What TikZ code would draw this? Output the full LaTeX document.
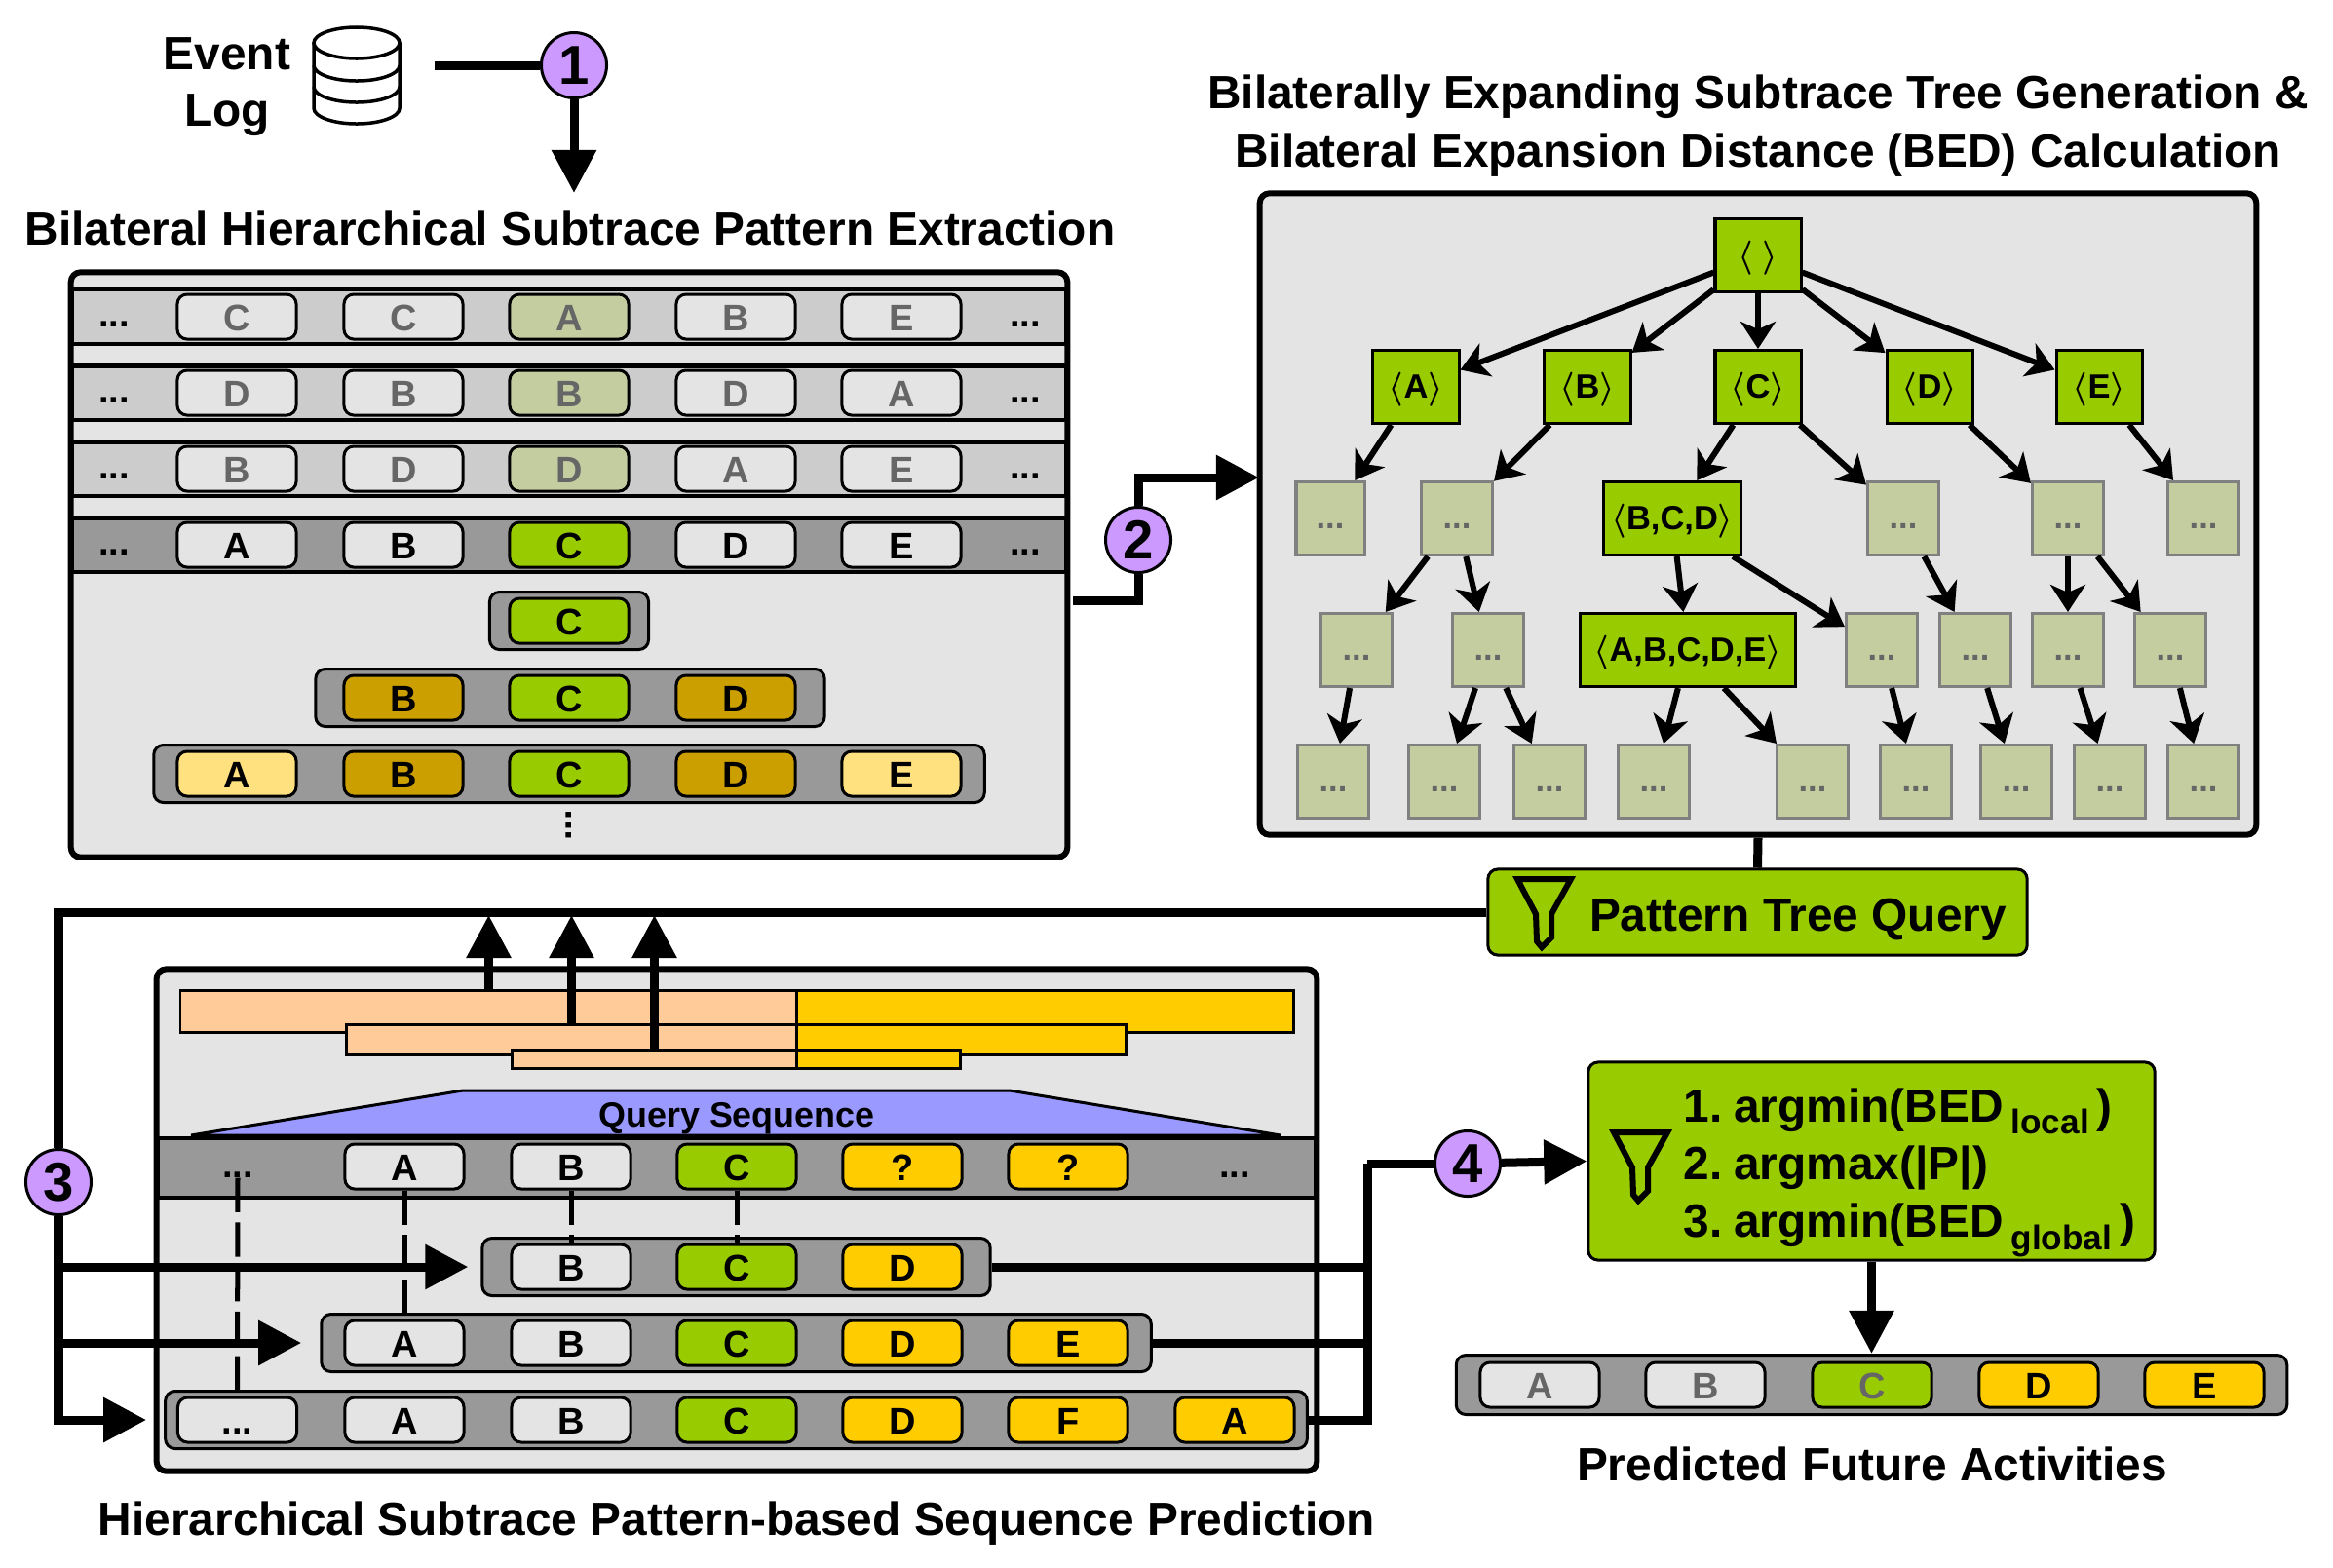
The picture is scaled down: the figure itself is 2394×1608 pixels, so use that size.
\documentclass[tikz,border=0pt]{standalone}
\usepackage{fontspec}
\setmainfont{Liberation Sans}
\usetikzlibrary{arrows.meta}

\definecolor{panelgray}{HTML}{E4E4E4}
\definecolor{lightband}{HTML}{CCCCCC}
\definecolor{darkband}{HTML}{999999}
\definecolor{actgreen}{HTML}{99CC00}
\definecolor{fadegreen}{HTML}{C3CDA0}
\definecolor{actgold}{HTML}{CC9F00}
\definecolor{actpale}{HTML}{FFE180}
\definecolor{actyellow}{HTML}{FFCC00}
\definecolor{barpeach}{HTML}{FFCC99}
\definecolor{stepviolet}{HTML}{CC99FF}
\definecolor{queryblue}{HTML}{9999FF}
\definecolor{fadetext}{HTML}{666666}
\definecolor{treeedge}{HTML}{808080}

\newcommand{\seqof}[1]{$\langle$#1$\rangle$}

\tikzset{
  titletext/.style={font=\bfseries\fontsize{13.6}{17}\selectfont, inner sep=0pt},
  panel/.style={draw, fill=panelgray, line width=.06cm, rounded corners=.1cm, inner sep=0pt},
  band/.style={draw, line width=.04cm, inner sep=0pt, minimum width=10.2cm, minimum height=.55cm},
  pill/.style={draw, fill=darkband, line width=.03cm, rounded corners=.1cm, inner sep=0pt, minimum height=.59cm},
  act/.style={draw, fill=panelgray, line width=.03cm, rounded corners=.1cm, inner sep=0pt,
    minimum width=1.22cm, minimum height=.46cm, text height=.28cm, text depth=0pt,
    font=\bfseries\fontsize{10.8}{12}\selectfont},
  faded/.style={text=fadetext},
  dotted text/.style={inner sep=0pt, text height=.28cm, text depth=0pt, font=\bfseries\fontsize{10.8}{12}\selectfont},
  greennode/.style={draw, fill=actgreen, line width=.03cm, inner sep=0pt, minimum width=.88cm, minimum height=.75cm,
    text height=.27cm, text depth=.04cm, font=\bfseries\boldmath\fontsize{9.8}{12}\selectfont},
  treenode/.style={draw=treeedge, fill=fadegreen, text=fadetext, line width=.03cm, inner sep=0pt, minimum width=.73cm, minimum height=.75cm,
    text height=.2cm, text depth=0pt, font=\bfseries\fontsize{9.8}{12}\selectfont},
  bar/.style={draw, line width=.025cm, inner sep=0pt},
  stepcircle/.style={circle, draw, fill=stepviolet, line width=.03cm, inner sep=0pt, minimum size=.67cm,
    font=\bfseries\fontsize{16}{16}\selectfont},
  flow/.style={line width=.09cm},
  flowarrow/.style={flow, -{Triangle[length=.44cm,width=.44cm]}},
  treearrow/.style={line width=.06cm, -{Stealth[length=.28cm,width=.36cm,inset=.08cm]}},
  matchline/.style={line width=.05cm, dash pattern=on 10pt off 3pt},
  greenbox/.style={draw, fill=actgreen, line width=.03cm, rounded corners=.1cm, inner sep=0pt},
  funnel/.pic={
    \draw[line width=.06cm] (0,0) -- (55,0) -- (35,36) -- (35,60) -- (25,70) -- (20,64) -- (19,36) -- cycle;
  }
}

\begin{document}
\begin{tikzpicture}[x=0.01cm,y=-0.01cm]
  \useasboundingbox (0,0) rectangle (2394,1608);

  % event log
  \node[titletext] (eventword) at (233,55) {Event};
  \node[titletext] (logword) at (233,118) {Log};
  \draw[line width=.035cm] (366,44) ellipse [x radius=.44cm, y radius=.16cm];
  \draw[line width=.035cm] (322,44) -- (322,111) arc[start angle=180,end angle=360,x radius=.44cm,y radius=.16cm] -- (410,44);
  \draw[line width=.035cm] (322,67) arc[start angle=180,end angle=360,x radius=.44cm,y radius=.16cm];
  \draw[line width=.035cm] (322,89) arc[start angle=180,end angle=360,x radius=.44cm,y radius=.16cm];
  \coordinate (logout) at (446,67);
  \coordinate (extractin) at (589,198);
  \node[stepcircle] (one) at (589,67) {1};
  \draw[flow] (logout) -- (one);
  \draw[flowarrow] (one) -- (extractin);

  % extraction panel
  \node[titletext] (extracttitle) at (585,234) {Bilateral Hierarchical Subtrace Pattern Extraction};
  \node[panel, minimum width=10.22cm, minimum height=6cm] (extractpanel) at (584,579.5) {};
  \node[band, fill=lightband] (rowa) at (584,325) {};
  \node[band, fill=lightband] (rowb) at (584,403) {};
  \node[band, fill=lightband] (rowc) at (584,481) {};
  \node[band, fill=darkband] (rowd) at (584,559) {};

  \node[dotted text] (adotl) at (117,321) {...};
  \node[act, faded] (a1) at (243,325) {C};
  \node[act, faded] (a2) at (414,325) {C};
  \node[act, faded, fill=fadegreen] (a3) at (584,325) {A};
  \node[act, faded] (a4) at (755,325) {B};
  \node[act, faded] (a5) at (925,325) {E};
  \node[dotted text] (adotr) at (1052,321) {...};

  \node[dotted text] (bdotl) at (117,399) {...};
  \node[act, faded] (b1) at (243,403) {D};
  \node[act, faded] (b2) at (414,403) {B};
  \node[act, faded, fill=fadegreen] (b3) at (584,403) {B};
  \node[act, faded] (b4) at (755,403) {D};
  \node[act, faded] (b5) at (925,403) {A};
  \node[dotted text] (bdotr) at (1052,399) {...};

  \node[dotted text] (cdotl) at (117,477) {...};
  \node[act, faded] (c1) at (243,481) {B};
  \node[act, faded] (c2) at (414,481) {D};
  \node[act, faded, fill=fadegreen] (c3) at (584,481) {D};
  \node[act, faded] (c4) at (755,481) {A};
  \node[act, faded] (c5) at (925,481) {E};
  \node[dotted text] (cdotr) at (1052,477) {...};

  \node[dotted text] (ddotl) at (117,555) {...};
  \node[act] (d1) at (243,559) {A};
  \node[act] (d2) at (414,559) {B};
  \node[act, fill=actgreen] (d3) at (584,559) {C};
  \node[act] (d4) at (755,559) {D};
  \node[act] (d5) at (925,559) {E};
  \node[dotted text] (ddotr) at (1052,555) {...};

  \node[pill, minimum width=1.63cm] (lvla) at (584,637) {};
  \node[act, fill=actgreen] (lvla3) at (584,637) {C};
  \node[pill, minimum width=5.22cm] (lvlb) at (585,716) {};
  \node[act, fill=actgold] (lvlb2) at (414,716) {B};
  \node[act, fill=actgreen] (lvlb3) at (584,716) {C};
  \node[act, fill=actgold] (lvlb4) at (755,716) {D};
  \node[pill, minimum width=8.52cm] (lvlc) at (584,794) {};
  \node[act, fill=actpale] (lvlc1) at (243,794) {A};
  \node[act, fill=actgold] (lvlc2) at (414,794) {B};
  \node[act, fill=actgreen] (lvlc3) at (584,794) {C};
  \node[act, fill=actgold] (lvlc4) at (755,794) {D};
  \node[act, fill=actpale] (lvlc5) at (925,794) {E};
  \node[inner sep=0pt, rotate=90, font=\bfseries\fontsize{10.8}{12}\selectfont] (moredots) at (584,847) {...};

  % subtrace tree
  \node[titletext] (treetitlea) at (1804,99) {Bilaterally Expanding Subtrace Tree Generation \&};
  \node[titletext] (treetitleb) at (1804,159) {Bilateral Expansion Distance (BED) Calculation};
  \node[panel, minimum width=10.22cm, minimum height=6.58cm] (treepanel) at (1804,527.5) {};

  \node[greennode] (root) at (1804,262) {\seqof{\;}};
  \node[greennode] (ta) at (1453,397) {\seqof{A}};
  \node[greennode] (tb) at (1629,397) {\seqof{B}};
  \node[greennode] (tc) at (1804,397) {\seqof{C}};
  \node[greennode] (td) at (1980,397) {\seqof{D}};
  \node[greennode] (te) at (2154,397) {\seqof{E}};

  \node[treenode, minimum width=.7cm] (ua) at (1365,532) {...};
  \node[treenode] (ub) at (1495,532) {...};
  \node[greennode, minimum width=1.41cm] (ubcd) at (1716,532) {\seqof{B,C,D}};
  \node[treenode] (uc) at (1953,532) {...};
  \node[treenode] (ud) at (2122,532) {...};
  \node[treenode] (ue) at (2261,532) {...};

  \node[treenode] (va) at (1392,667) {...};
  \node[treenode] (vb) at (1527,667) {...};
  \node[greennode, minimum width=2.21cm] (vall) at (1732,667) {\seqof{A,B,C,D,E}};
  \node[treenode] (vc) at (1931,667) {...};
  \node[treenode] (vd) at (2027,667) {...};
  \node[treenode] (ve) at (2122,667) {...};
  \node[treenode] (vf) at (2227,667) {...};

  \node[treenode] (wa) at (1368,802) {...};
  \node[treenode] (wb) at (1482,802) {...};
  \node[treenode] (wc) at (1590,802) {...};
  \node[treenode] (wd) at (1697,802) {...};
  \node[treenode] (we) at (1860,802) {...};
  \node[treenode] (wf) at (1966,802) {...};
  \node[treenode] (wg) at (2069,802) {...};
  \node[treenode] (wh) at (2165,802) {...};
  \node[treenode] (wi) at (2261,802) {...};

  \draw[treearrow] (root) -- (ta);
  \draw[treearrow] (root) -- (tb);
  \draw[treearrow] (root) -- (tc);
  \draw[treearrow] (root) -- (td);
  \draw[treearrow] (root) -- (te);
  \draw[treearrow] (ta) -- (ua);
  \draw[treearrow] (tb) -- (ub);
  \draw[treearrow] (tc) -- (ubcd);
  \draw[treearrow] (tc) -- (uc);
  \draw[treearrow] (td) -- (ud);
  \draw[treearrow] (te) -- (ue);
  \draw[treearrow] (ub) -- (va);
  \draw[treearrow] (ub) -- (vb);
  \draw[treearrow] (ubcd) -- (vall);
  \draw[treearrow] (ubcd) -- (vc);
  \draw[treearrow] (uc) -- (vd);
  \draw[treearrow] (ud) -- (ve);
  \draw[treearrow] (ud) -- (vf);
  \draw[treearrow] (va) -- (wa);
  \draw[treearrow] (vb) -- (wb);
  \draw[treearrow] (vb) -- (wc);
  \draw[treearrow] (vall) -- (wd);
  \draw[treearrow] (vall) -- (we);
  \draw[treearrow] (vc) -- (wf);
  \draw[treearrow] (vd) -- (wg);
  \draw[treearrow] (ve) -- (wh);
  \draw[treearrow] (vf) -- (wi);

  % step 2
  \coordinate (extractout) at (1101,616);
  \coordinate (treein) at (1292,490);
  \node[stepcircle] (two) at (1168,554) {2};
  \draw[flow] (extractout) -| (two);
  \draw[flowarrow] (two) |- (treein);

  % query box
  \node[greenbox, minimum width=5.53cm, minimum height=.88cm] (querybox) at (1803.5,936) {};
  \node[titletext] (querytext) at (1845,944) {Pattern Tree Query};
  \pic at (1557,902) {funnel};
  \draw[flow] (treepanel.south) -- (querybox.north);

  % prediction panel
  \node[titletext] (predtitle) at (756,1563) {Hierarchical Subtrace Pattern-based Sequence Prediction};
  \node[panel, minimum width=11.9cm, minimum height=5.15cm] (predpanel) at (756,1252) {};

  \node[bar, fill=barpeach, minimum width=6.33cm, minimum height=.43cm] (barpa) at (501.5,1038) {};
  \node[bar, fill=actyellow, minimum width=5.1cm, minimum height=.43cm] (barya) at (1072.5,1038) {};
  \node[bar, fill=barpeach, minimum width=4.62cm, minimum height=.31cm] (barpb) at (586.5,1067) {};
  \node[bar, fill=actyellow, minimum width=3.38cm, minimum height=.31cm] (baryb) at (986.5,1067) {};
  \node[bar, fill=barpeach, minimum width=2.92cm, minimum height=.19cm] (barpc) at (671.5,1087) {};
  \node[bar, fill=actyellow, minimum width=1.68cm, minimum height=.19cm] (baryc) at (901.5,1087) {};

  \draw[line width=.03cm, fill=queryblue] (196,1165) -- (475,1119) -- (1036,1119) -- (1314,1165) -- cycle;
  \node[inner sep=0pt, font=\bfseries\fontsize{10.2}{12}\selectfont] (querylabel) at (756,1148) {Query Sequence};
  \node[band, fill=darkband, minimum width=11.87cm, minimum height=.61cm] (queryband) at (756,1198) {};

  \node[dotted text] (qdotl) at (244,1194) {...};
  \node[act] (q2) at (415,1197) {A};
  \node[act] (q3) at (586,1197) {B};
  \node[act, fill=actgreen] (q4) at (756,1197) {C};
  \node[act, fill=actyellow] (q5) at (926,1197) {?};
  \node[act, fill=actyellow] (q6) at (1096,1197) {?};
  \node[dotted text] (qdotr) at (1267,1194) {...};

  \node[pill, minimum width=5.21cm] (sa) at (755.5,1300) {};
  \node[act] (sa3) at (586,1300) {B};
  \node[act, fill=actgreen] (sa4) at (756,1300) {C};
  \node[act, fill=actyellow] (sa5) at (926,1300) {D};

  \node[pill, minimum width=8.51cm] (sb) at (755.5,1378) {};
  \node[act] (sb2) at (415,1378) {A};
  \node[act] (sb3) at (586,1378) {B};
  \node[act, fill=actgreen] (sb4) at (756,1378) {C};
  \node[act, fill=actyellow] (sb5) at (926,1378) {D};
  \node[act, fill=actyellow] (sb6) at (1096,1378) {E};

  \node[pill, minimum width=11.71cm] (sc) at (755.5,1457) {};
  \node[act] (sc1) at (243.5,1457) {...};
  \node[act] (sc2) at (415,1457) {A};
  \node[act] (sc3) at (586,1457) {B};
  \node[act, fill=actgreen] (sc4) at (756,1457) {C};
  \node[act, fill=actyellow] (sc5) at (926,1457) {D};
  \node[act, fill=actyellow] (sc6) at (1096,1457) {F};
  \node[act, fill=actyellow] (sc7) at (1267,1457) {A};

  \draw[matchline] (qdotl.south) -- (sc1.north);
  \draw[matchline] (q2.south) -- (sb2.north);
  \draw[matchline] (q3.south) -- (sa3.north);
  \draw[matchline] (q4.south) -- (sa4.north);

  \draw[flowarrow, shorten >=.03cm] (barpa.north) -- (barpa.north |- querybox.west);
  \draw[flowarrow, shorten >=.03cm] (barpb.north) -- (barpb.north |- querybox.west);
  \draw[flowarrow, shorten >=.03cm] (barpc.north) -- (barpc.north |- querybox.west);

  % step 3
  \node[stepcircle] (three) at (60,1213) {3};
  \draw[flow] (querybox.west) -| (three);
  \draw[flowarrow, shorten >=.13cm] (three) |- (sa.west);
  \draw[flowarrow, shorten >=.19cm] (three) |- (sb.west);
  \draw[flowarrow, shorten >=.18cm] (three) |- (sc.west);

  % step 4 and the filter
  \coordinate (joint) at (1403,1194);
  \node[stepcircle] (four) at (1506,1194) {4};
  \node[greenbox, minimum width=5.81cm, minimum height=2.03cm] (filterbox) at (1920.5,1191.5) {};
  \node[anchor=west, inner sep=0pt, align=left, font=\bfseries\fontsize{13.6}{16.9}\selectfont] (filtertext) at (1727,1203)
    {1.\hspace{-1.7pt} argmin(BED\,\raisebox{-3.5pt}{\fontsize{10}{10}\selectfont local}\,)\\
     2.\hspace{-1.7pt} argmax(|P|)\\
     3.\hspace{-1.7pt} argmin(BED\,\raisebox{-3.5pt}{\fontsize{10}{10}\selectfont global}\,)};
  \pic at (1656,1162) {funnel};
  \draw[flow] (sa.east) -| (joint);
  \draw[flow] (sb.east) -| (joint);
  \draw[flow] (sc.east) -| (joint);
  \draw[flow] (joint) -- (four);
  \draw[flowarrow] (four) -- (filterbox.west);

  % predicted activities
  \node[pill, minimum width=8.52cm, minimum height=.61cm] (predband) at (1920.5,1421) {};
  \node[act, faded] (p1) at (1580,1421) {A};
  \node[act, faded] (p2) at (1750,1421) {B};
  \node[act, faded, fill=actgreen] (p3) at (1921,1421) {C};
  \node[act, fill=actyellow] (p4) at (2092,1421) {D};
  \node[act, fill=actyellow] (p5) at (2262,1421) {E};
  \node[titletext] (futuretitle) at (1921,1502) {Predicted Future Activities};
  \draw[flowarrow] (filterbox.south) -- (predband.north);
\end{tikzpicture}
\end{document}
